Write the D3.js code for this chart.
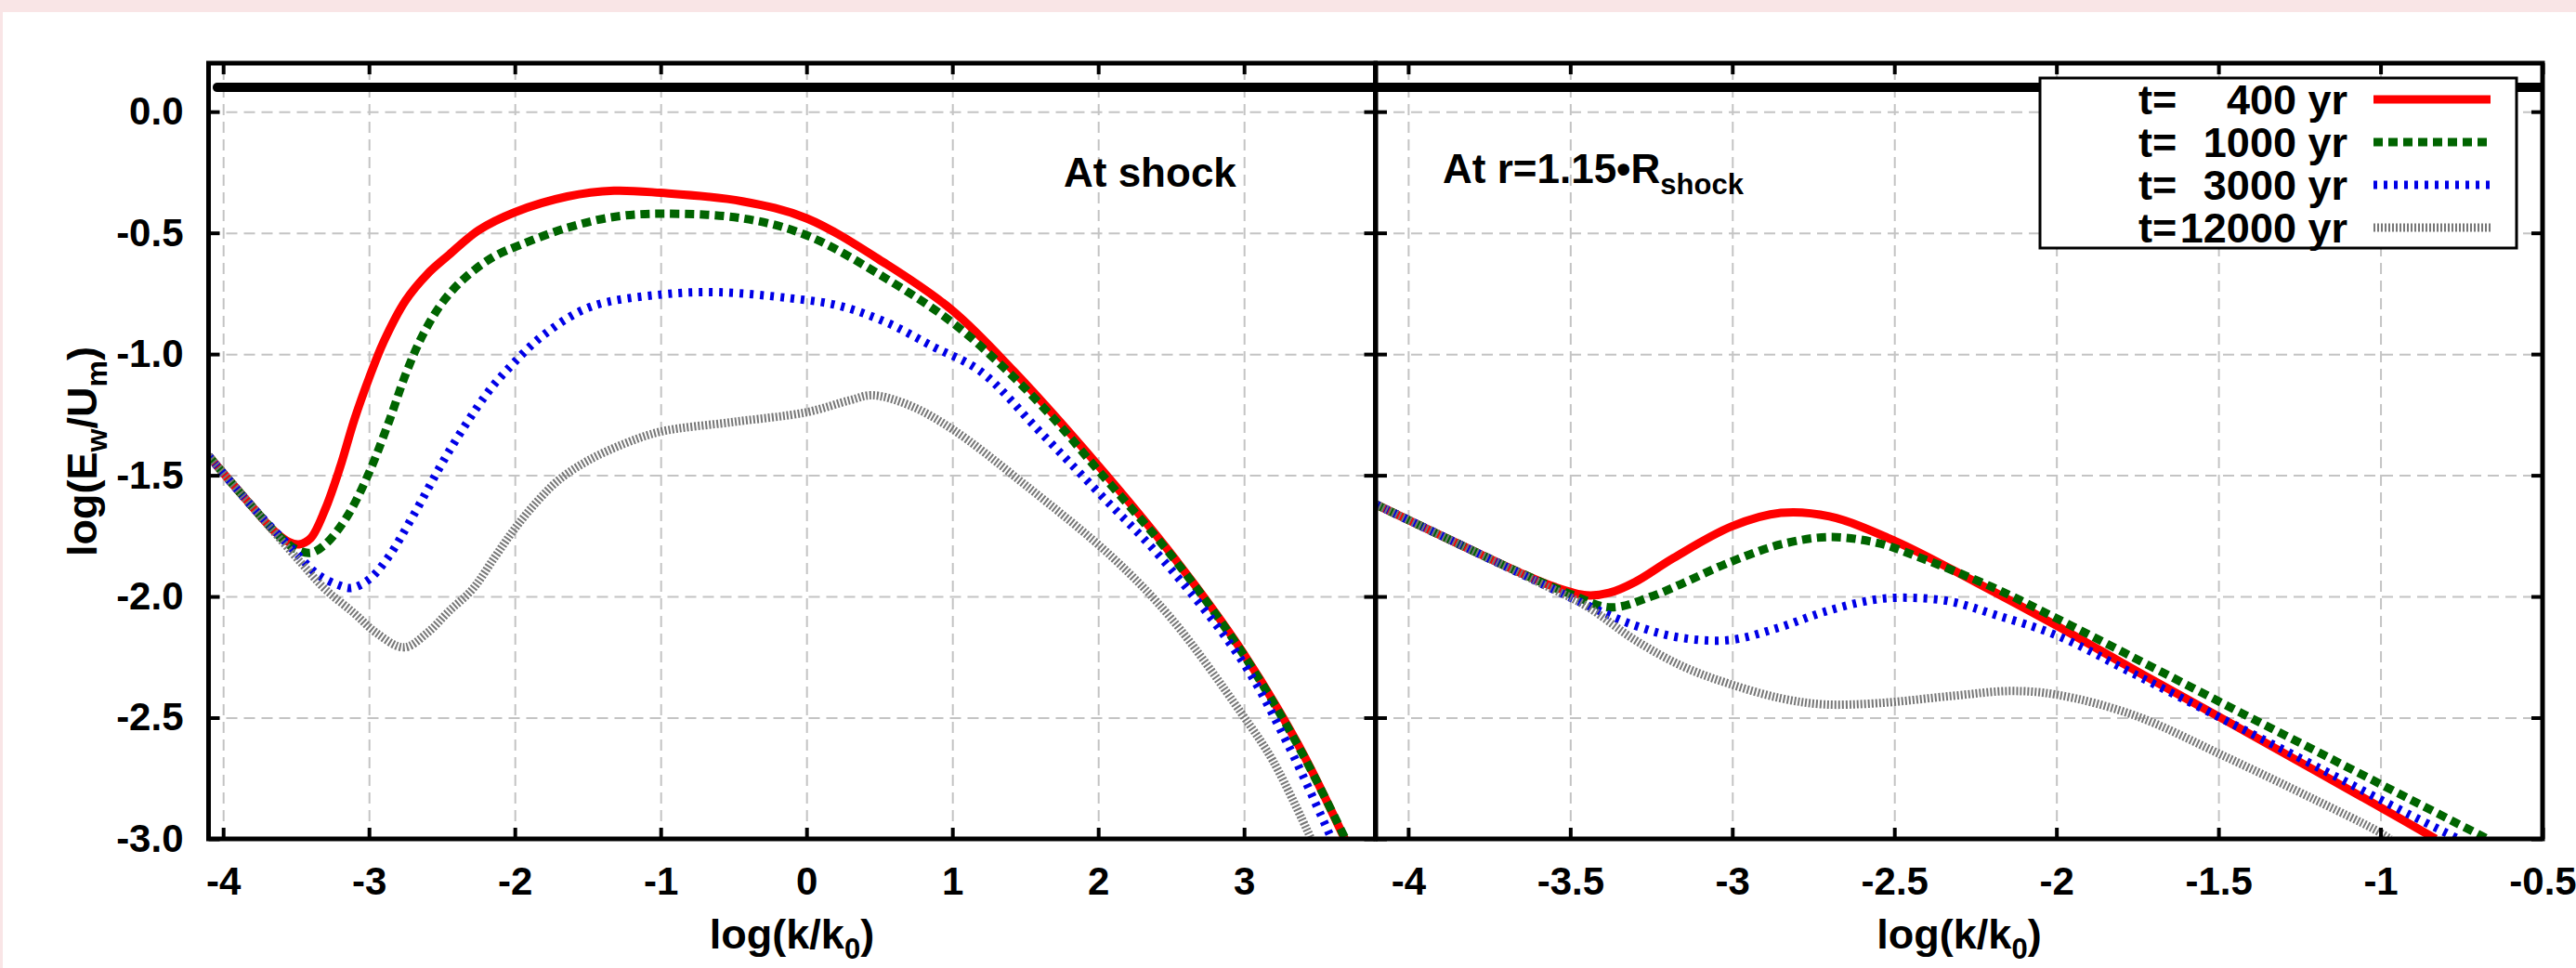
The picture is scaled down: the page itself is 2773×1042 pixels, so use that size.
<!DOCTYPE html>
<html>
<head>
<meta charset="utf-8">
<script src="https://cdn.jsdelivr.net/npm/d3@7"></script>
<style>
  body { margin: 0; background: #f9e5e6; }
  svg { display: block; }
  text { font-family: "Liberation Sans", Arial, Helvetica, sans-serif; font-weight: bold; fill: #000; }
  .tick text { font-size: 42px; }
  .title { font-size: 45px; }
  .note { font-size: 44px; }
  .key { font-size: 45px; }
  .grid line { stroke: #c4c4c4; stroke-width: 2; stroke-dasharray: 12,7; }
  .grid .domain { display: none; }
  .ax .domain { display: none; }
  .ax line { stroke: #000; stroke-width: 4; }
</style>
</head>
<body>
<script>
// tick values
var yTicks = [0.0, -0.5, -1.0, -1.5, -2.0, -2.5, -3.0];
var leftTicks = [-4, -3, -2, -1, 0, 1, 2, 3];
var rightTicks = [-4, -3.5, -3, -2.5, -2, -1.5, -1, -0.5];

// legend
var legendTimes = ["400", "1000", "3000", "12000"];
var colors = ["#ff0000", "#006400", "#0000e6", "#777777"];
var dashes = [null, "10,6", "4,7", "2,2"];

// black level line
var refLevel = 0.1;

// panel 1 : at shock  [log(k/k0), log(Ew/Um)]
var shock400 = [[-4.1,-1.42],[-3.8,-1.63],[-3.65,-1.73],[-3.55,-1.775],[-3.48,-1.785],[-3.4,-1.76],[-3.3,-1.64],[-3.2,-1.47],[-3.1,-1.27],[-3.0,-1.1],[-2.9,-0.95],[-2.75,-0.78],[-2.6,-0.67],[-2.45,-0.59],[-2.25,-0.49],[-2.0,-0.415],[-1.64,-0.35],[-1.32,-0.326],[-1.0,-0.335],[-0.44,-0.37],[0,-0.44],[0.55,-0.63],[1,-0.82],[1.42,-1.07],[2,-1.46],[2.52,-1.84],[2.98,-2.22],[3.37,-2.61],[3.69,-3.0]];
var shock1000 = [[-4.1,-1.42],[-3.8,-1.63],[-3.6,-1.76],[-3.5,-1.805],[-3.4,-1.82],[-3.3,-1.785],[-3.15,-1.67],[-3.0,-1.49],[-2.87,-1.29],[-2.74,-1.07],[-2.63,-0.92],[-2.5,-0.79],[-2.35,-0.69],[-2.15,-0.6],[-1.96,-0.549],[-1.64,-0.479],[-1.32,-0.434],[-0.99,-0.421],[-0.44,-0.44],[0,-0.51],[0.55,-0.69],[1,-0.87],[1.36,-1.06],[1.7,-1.27],[2,-1.48],[2.52,-1.845],[2.98,-2.225],[3.37,-2.615],[3.695,-3.0]];
var shock3000 = [[-4.1,-1.42],[-3.8,-1.63],[-3.5,-1.82],[-3.35,-1.91],[-3.2,-1.955],[-3.12,-1.965],[-3.0,-1.93],[-2.87,-1.84],[-2.7,-1.67],[-2.45,-1.40],[-2.2,-1.17],[-2.06,-1.07],[-1.8,-0.92],[-1.48,-0.805],[-0.99,-0.754],[-0.6,-0.745],[-0.11,-0.77],[0.22,-0.80],[0.55,-0.87],[0.87,-0.97],[1.19,-1.07],[1.6,-1.32],[2,-1.57],[2.43,-1.84],[2.98,-2.26],[3.3,-2.61],[3.6,-3.0]];
var shock12000 = [[-4.1,-1.42],[-3.8,-1.63],[-3.46,-1.865],[-3.3,-1.97],[-3.1,-2.07],[-2.95,-2.15],[-2.76,-2.21],[-2.6,-2.15],[-2.45,-2.06],[-2.29,-1.97],[-2.14,-1.84],[-2.0,-1.72],[-1.85,-1.61],[-1.7,-1.52],[-1.5,-1.44],[-1.25,-1.37],[-1.0,-1.32],[-0.5,-1.28],[0,-1.24],[0.3,-1.19],[0.45,-1.17],[0.7,-1.21],[1.0,-1.31],[1.5,-1.54],[2.1,-1.84],[2.5,-2.09],[2.98,-2.48],[3.2,-2.68],[3.46,-3.0]];

// panel 2 : at r = 1.15 R_shock
var ahead400 = [[-4.1,-1.62],[-3.85,-1.78],[-3.65,-1.905],[-3.55,-1.96],[-3.45,-1.995],[-3.38,-1.985],[-3.3,-1.94],[-3.18,-1.84],[-3.0,-1.71],[-2.85,-1.655],[-2.7,-1.67],[-2.5,-1.77],[-2.25,-1.94],[-2.0,-2.12],[-1.75,-2.31],[-1.48,-2.51],[-1.2,-2.72],[-1.0,-2.87],[-0.83,-3.0]];
var ahead1000 = [[-4.1,-1.62],[-3.85,-1.78],[-3.65,-1.905],[-3.5,-1.99],[-3.375,-2.045],[-3.25,-2.0],[-3.16,-1.95],[-3.01,-1.86],[-2.85,-1.785],[-2.7,-1.755],[-2.55,-1.78],[-2.44,-1.83],[-2.2,-1.96],[-2.0,-2.09],[-1.75,-2.26],[-1.48,-2.446],[-1.2,-2.637],[-0.91,-2.836],[-0.67,-3.0]];
var ahead3000 = [[-4.1,-1.62],[-3.85,-1.78],[-3.6,-1.94],[-3.45,-2.035],[-3.3,-2.12],[-3.16,-2.17],[-3.01,-2.18],[-2.86,-2.13],[-2.72,-2.065],[-2.57,-2.015],[-2.47,-2.005],[-2.33,-2.02],[-2.19,-2.075],[-2.0,-2.16],[-1.76,-2.32],[-1.48,-2.51],[-1.2,-2.70],[-0.91,-2.90],[-0.76,-3.0]];
var ahead12000 = [[-4.1,-1.62],[-3.85,-1.78],[-3.6,-1.94],[-3.45,-2.04],[-3.3,-2.18],[-3.15,-2.29],[-3.01,-2.36],[-2.85,-2.42],[-2.72,-2.445],[-2.55,-2.44],[-2.32,-2.41],[-2.14,-2.39],[-2.0,-2.405],[-1.76,-2.49],[-1.48,-2.66],[-1.2,-2.84],[-1.02,-2.96],[-0.97,-3.0]];


var W = 2773, H = 1042;
var plotTop = 68, plotBottom = 903, tick = 12;

var svg = d3.select("body").append("svg")
    .attr("width", W)
    .attr("height", H);

svg.append("rect")
    .attr("x", 3).attr("y", 13)
    .attr("width", W - 3).attr("height", H - 13)
    .attr("fill", "#fff");

var y = d3.scaleLinear().domain([-3, 0.2]).range([plotBottom, plotTop]);
var xLeft = d3.scaleLinear().domain([-4.1, 3.9]).range([224.5, 1480.5]);
var xRight = d3.scaleLinear().domain([-4.1, -0.5]).range([1481, 2737]);

var fmtX = function(d) { return String(d); };
var fmtY = function(d) { return d.toFixed(1); };

function drawPanel(x, ticks, series, id, showY, levelStart) {
    var x0 = x.range()[0], x1 = x.range()[1];
    var g = svg.append("g");

    svg.append("clipPath").attr("id", id)
      .append("rect")
        .attr("x", x0).attr("y", plotTop - 10)
        .attr("width", x1 - x0).attr("height", plotBottom - plotTop + 10);

    // grid
    g.append("g").attr("class", "grid")
        .attr("transform", "translate(0," + plotBottom + ")")
        .call(d3.axisBottom(x).tickValues(ticks).tickSize(-(plotBottom - plotTop)).tickFormat(""));
    g.append("g").attr("class", "grid")
        .attr("transform", "translate(" + x0 + ",0)")
        .call(d3.axisLeft(y).tickValues(yTicks).tickSize(-(x1 - x0)).tickFormat(""));

    var line = d3.line()
        .x(function(d) { return x(d[0]); })
        .y(function(d) { return y(d[1]); })
        .curve(d3.curveCatmullRom.alpha(0.5));

    var lines = g.append("g").attr("clip-path", "url(#" + id + ")");

    // thick black level line
    lines.append("path")
        .attr("d", d3.line().x(function(d) { return x(d[0]); }).y(function(d) { return y(d[1]); })
              ([[levelStart, refLevel], [x.domain()[1], refLevel]]))
        .attr("fill", "none")
        .attr("stroke", "#000")
        .attr("stroke-width", 10)
        .attr("stroke-linecap", "round");

    lines.selectAll(".curve")
        .data(series)
        .enter().append("path")
        .attr("class", "curve")
        .attr("d", line)
        .attr("fill", "none")
        .attr("stroke", function(d, i) { return colors[i]; })
        .attr("stroke-width", 9)
        .attr("stroke-dasharray", function(d, i) { return dashes[i]; });

    // ticks on all four sides, pointing in
    g.append("g").attr("class", "ax")
        .attr("transform", "translate(0," + plotBottom + ")")
        .call(d3.axisBottom(x).tickValues(ticks).tickSizeInner(-tick).tickSizeOuter(0)
              .tickPadding(30).tickFormat(fmtX));
    g.append("g").attr("class", "ax")
        .attr("transform", "translate(0," + plotTop + ")")
        .call(d3.axisTop(x).tickValues(ticks).tickSizeInner(-tick).tickSizeOuter(0).tickFormat(""));
    g.append("g").attr("class", "ax")
        .attr("transform", "translate(" + x0 + ",0)")
        .call(d3.axisLeft(y).tickValues(yTicks).tickSizeInner(-tick).tickSizeOuter(0)
              .tickPadding(27).tickFormat(showY ? fmtY : ""));
    g.append("g").attr("class", "ax")
        .attr("transform", "translate(" + x1 + ",0)")
        .call(d3.axisRight(y).tickValues(yTicks).tickSizeInner(-tick).tickSizeOuter(0).tickFormat(""));
    g.selectAll(".ax").attr("font-family", null).attr("font-size", null);

    // frame
    g.append("rect")
        .attr("x", x0).attr("y", plotTop)
        .attr("width", x1 - x0).attr("height", plotBottom - plotTop)
        .attr("fill", "none")
        .attr("stroke", "#000")
        .attr("stroke-width", 5);

    // x title
    var xt = g.append("text").attr("class", "title")
        .attr("x", (x0 + x1) / 2).attr("y", 1021)
        .attr("text-anchor", "middle");
    xt.append("tspan").text("log(k/k");
    xt.append("tspan").attr("dy", 11).style("font-size", "31px").text("0");
    xt.append("tspan").attr("dy", -11).text(")");
    return g;
}

drawPanel(xLeft, leftTicks, [shock400, shock1000, shock3000, shock12000], "clipL", true, -4.04);
drawPanel(xRight, rightTicks, [ahead400, ahead1000, ahead3000, ahead12000], "clipR", false, -4.1);

// y title
var yt = svg.append("text").attr("class", "title")
    .attr("transform", "translate(104,486) rotate(-90)")
    .attr("text-anchor", "middle");
yt.append("tspan").text("log(E");
yt.append("tspan").attr("dy", 11).style("font-size", "32px").text("w");
yt.append("tspan").attr("dy", -11).text("/U");
yt.append("tspan").attr("dy", 11).style("font-size", "32px").text("m");
yt.append("tspan").attr("dy", -11).text(")");

// panel notes
svg.append("text").attr("class", "note")
    .attr("x", 1145).attr("y", 201)
    .text("At shock");
var n2 = svg.append("text").attr("class", "note")
    .attr("x", 1553).attr("y", 197);
n2.append("tspan").text("At r=1.15\u2022R");
n2.append("tspan").attr("dy", 12).style("font-size", "31px").text("shock");

// legend
var key = svg.append("g");
key.append("rect")
    .attr("x", 2196).attr("y", 84)
    .attr("width", 513).attr("height", 183)
    .attr("fill", "#fff")
    .attr("stroke", "#000")
    .attr("stroke-width", 3);

var rows = key.selectAll(".row")
    .data(legendTimes)
    .enter().append("g")
    .attr("class", "row")
    .attr("transform", function(d, i) { return "translate(0," + (107 + i * 46) + ")"; });

rows.append("text").attr("class", "key")
    .attr("x", 2302).attr("y", 16)
    .text("t=");
rows.append("text").attr("class", "key")
    .attr("x", 2527).attr("y", 16)
    .attr("text-anchor", "end")
    .text(function(d) { return d + " yr"; });
rows.append("line")
    .attr("x1", 2555).attr("x2", 2681)
    .attr("y1", 0).attr("y2", 0)
    .attr("stroke", function(d, i) { return colors[i]; })
    .attr("stroke-width", 9)
    .attr("stroke-dasharray", function(d, i) { return dashes[i]; });
</script>
</body>
</html>
